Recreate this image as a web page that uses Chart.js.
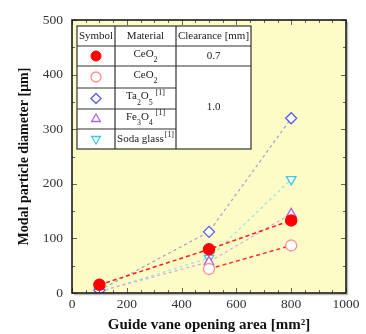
<!DOCTYPE html>
<html><head><meta charset="utf-8">
<script src="https://cdn.jsdelivr.net/npm/chart.js@4"></script>
<style>html,body{margin:0;padding:0;background:#fff;}#wrap{width:366px;height:334px;}</style>
</head><body><div id="wrap"><canvas id="c" width="366" height="334"></canvas></div>
<script>
const xValues = [100, 500, 800];
const ceo2Clear07 = [15, 80, 133];
const ceo2Clear10 = [null, 44, 87];
const ta2o5 = [5, 112, 320];
const fe3o4 = [3, 57, 145];
const sodaGlass = [2, 64, 208];
const yTicks = [0, 100, 200, 300, 400, 500];
const xTicks = [0, 200, 400, 600, 800, 1000];

const SERIF = '"Liberation Serif", "DejaVu Serif", serif';

function pts(arr){ return xValues.map((x,i)=>({x:x, y:arr[i]})); }

const datasets = [
  {label:'CeO2 0.7', data:pts(ceo2Clear07), borderColor:'#ff1a1a', backgroundColor:'#ff0000',
   pointBorderColor:'#ff0000', pointBackgroundColor:'#ff0000', pointStyle:'circle', pointRadius:5.5,
   borderDash:[4,3], borderWidth:1.5},
  {label:'CeO2 1.0', data:pts(ceo2Clear10), borderColor:'#ff3030', pointBorderColor:'#ff9090',
   pointBackgroundColor:'#ffffff', pointStyle:'circle', pointRadius:5.5, pointBorderWidth:1.3,
   borderDash:[4,3], borderWidth:1.5, spanGaps:false},
  {label:'Ta2O5', data:pts(ta2o5), borderColor:'#a0a0d8', pointBorderColor:'#5a5ae8',
   pointBackgroundColor:'#ffffff', pointStyle:'rectRot', pointRadius:5.5, pointBorderWidth:1.3,
   borderDash:[3,3], borderWidth:1.2},
  {label:'Fe3O4', data:pts(fe3o4), borderColor:'#d2a8e6', pointBorderColor:'#b060e0',
   pointBackgroundColor:'#ffffff', pointStyle:'triangle', pointRadius:5.5, pointBorderWidth:1.3,
   borderDash:[3,3], borderWidth:1.2},
  {label:'Soda glass', data:pts(sodaGlass), borderColor:'#9ee0e0', pointBorderColor:'#40c8e8',
   pointBackgroundColor:'#ffffff', pointStyle:'triangle', pointRotation:180, pointRadius:5.5, pointBorderWidth:1.3,
   borderDash:[3,3], borderWidth:1.2}
];

function drawRich(ctx, segs, cx, cy, size){
  const fontN = size + 'px ' + SERIF;
  const fontS = (size*0.72) + 'px ' + SERIF;
  let w = 0;
  segs.forEach(s=>{ ctx.font = s.mode==='n'?fontN:fontS; s.w = ctx.measureText(s.t).width + (s.gap||0); w += s.w; });
  let x = cx - w/2;
  ctx.textBaseline = 'middle'; ctx.textAlign='left';
  segs.forEach(s=>{
    ctx.font = s.mode==='n'?fontN:fontS;
    let y = cy;
    if (s.mode==='sub') y = cy + size*0.55;
    if (s.mode==='sup') y = cy - size*0.35;
    ctx.fillText(s.t, x + (s.gap||0), y);
    x += s.w;
  });
}

const framePlugin = {
  id:'frame',
  beforeDatasetsDraw(chart){
    const {ctx, chartArea:a} = chart;
    ctx.save();
    ctx.fillStyle = '#fdfcc6';
    ctx.fillRect(a.left, a.top, a.right-a.left, a.bottom-a.top);
    ctx.restore();
  },
  afterDatasetsDraw(chart){
    const {ctx, chartArea:a, scales} = chart;
    const xs = scales.x, ys = scales.y;
    ctx.save();
    ctx.strokeStyle = '#666'; ctx.lineWidth = 1;
    for (let v=0; v<=500; v+=50){
      const p = Math.round(ys.getPixelForValue(v))+0.5;
      const L = v%100===0 ? 5 : 3;
      ctx.beginPath(); ctx.moveTo(a.left, p); ctx.lineTo(a.left+L, p);
      ctx.moveTo(a.right, p); ctx.lineTo(a.right-L, p); ctx.stroke();
    }
    for (let v=0; v<=1000; v+=50){
      const p = Math.round(xs.getPixelForValue(v))+0.5;
      const L = v%200===0 ? 5 : 3;
      ctx.beginPath(); ctx.moveTo(p, a.bottom); ctx.lineTo(p, a.bottom-L);
      ctx.moveTo(p, a.top); ctx.lineTo(p, a.top+L); ctx.stroke();
    }
    ctx.strokeStyle = '#bbb'; ctx.lineWidth = 1.5;
    ctx.beginPath(); ctx.moveTo(a.left+2, a.bottom+1.5); ctx.lineTo(a.right+1.5, a.bottom+1.5); ctx.lineTo(a.right+1.5, a.top+2); ctx.stroke();
    ctx.strokeStyle = '#1a1a1a'; ctx.lineWidth = 1.6;
    ctx.strokeRect(a.left, a.top, a.right-a.left, a.bottom-a.top);
    ctx.restore();
  },
  afterDraw(chart){
    const {ctx, chartArea:a} = chart;
    const L = a.left + 5, T = a.top + 6;
    const cols = [L, L+38, L+99, L+174];
    const rows = [T, T+20, T+40, T+62, T+83, T+103, T+123];
    ctx.save();
    ctx.fillStyle = '#fff';
    ctx.fillRect(cols[0], rows[0], cols[3]-cols[0], rows[6]-rows[0]);
    ctx.strokeStyle = '#333'; ctx.lineWidth = 1.2;
    ctx.strokeRect(cols[0], rows[0], cols[3]-cols[0], rows[6]-rows[0]);
    ctx.beginPath();
    ctx.moveTo(cols[1], rows[0]); ctx.lineTo(cols[1], rows[6]);
    ctx.moveTo(cols[2], rows[0]); ctx.lineTo(cols[2], rows[6]);
    for (let i=1;i<=5;i++){
      ctx.moveTo(cols[0], rows[i]); ctx.lineTo(i>=3 ? cols[2] : cols[3], rows[i]);
    }
    ctx.stroke();
    ctx.fillStyle = '#222';
    const fs = 11;
    const cm = i => (rows[i]+rows[i+1])/2;
    const c1 = (cols[0]+cols[1])/2, c2 = (cols[1]+cols[2])/2, c3 = (cols[2]+cols[3])/2;
    drawRich(ctx, [{t:'Symbol',mode:'n'}], c1, cm(0), fs);
    drawRich(ctx, [{t:'Material',mode:'n'}], c2, cm(0), fs);
    drawRich(ctx, [{t:'Clearance [mm]',mode:'n'}], c3, cm(0), fs);
    drawRich(ctx, [{t:'CeO',mode:'n'},{t:'2',mode:'sub'}], c2, cm(1)-2, fs);
    drawRich(ctx, [{t:'CeO',mode:'n'},{t:'2',mode:'sub'}], c2, cm(2)-2, fs);
    drawRich(ctx, [{t:'Ta',mode:'n'},{t:'2',mode:'sub'},{t:'O',mode:'n'},{t:'5',mode:'sub'},{t:'[1]',mode:'sup',gap:3}], c2, cm(3)-2, fs);
    drawRich(ctx, [{t:'Fe',mode:'n'},{t:'3',mode:'sub'},{t:'O',mode:'n'},{t:'4',mode:'sub'},{t:'[1]',mode:'sup',gap:3}], c2, cm(4)-2, fs);
    drawRich(ctx, [{t:'Soda glass',mode:'n'},{t:'[1]',mode:'sup',gap:1}], c2, cm(5), fs);
    drawRich(ctx, [{t:'0.7',mode:'n'}], c3, cm(1), fs);
    drawRich(ctx, [{t:'1.0',mode:'n'}], c3, (rows[2]+rows[6])/2, fs);
    const H = Chart.helpers;
    for (let i=0;i<5;i++){
      const d = datasets[i];
      ctx.strokeStyle = d.pointBorderColor; ctx.fillStyle = d.pointBackgroundColor;
      ctx.lineWidth = d.pointBorderWidth || 1;
      H.drawPoint(ctx, {pointStyle:d.pointStyle, rotation:d.pointRotation||0, radius:5, borderWidth:ctx.lineWidth}, c1, cm(i+1));
    }
    ctx.restore();
  }
};

new Chart(document.getElementById('c'), {
  type:'line',
  data:{datasets:datasets},
  options:{
    responsive:false, animation:false,
    layout:{padding:{top:20, right:20, left:0, bottom:0}},
    plugins:{legend:{display:false}, tooltip:{enabled:false}},
    elements:{line:{tension:0, fill:false}},
    scales:{
      x:{type:'linear', position:'bottom', min:0, max:1000,
        afterBuildTicks(s){ s.ticks = xTicks.map(v=>({value:v})); },
        ticks:{font:{family:SERIF, size:13.5}, color:'#333', padding:3, maxRotation:0, callback:v=>String(v)},
        grid:{display:false, drawTicks:false, tickLength:0}, border:{display:false},
        title:{display:true, text:'Guide vane opening area [mm²]', font:{family:SERIF, size:15, weight:'bold'}, color:'#111', padding:{top:1,bottom:0}},
        afterFit(s){ s.height = 41; }
      },
      y:{type:'linear', position:'left', min:0, max:500,
        afterBuildTicks(s){ s.ticks = yTicks.map(v=>({value:v})); },
        ticks:{font:{family:SERIF, size:13.5}, color:'#333', padding:9, callback:v=>String(v)},
        grid:{display:false, drawTicks:false, tickLength:0}, border:{display:false},
        title:{display:true, text:'Modal particle diameter [μm]', font:{family:SERIF, size:14, weight:'bold'}, color:'#111', padding:{top:16,bottom:0}},
        afterFit(s){ s.width = 72; }
      }
    }
  },
  plugins:[framePlugin]
});
</script></body></html>
